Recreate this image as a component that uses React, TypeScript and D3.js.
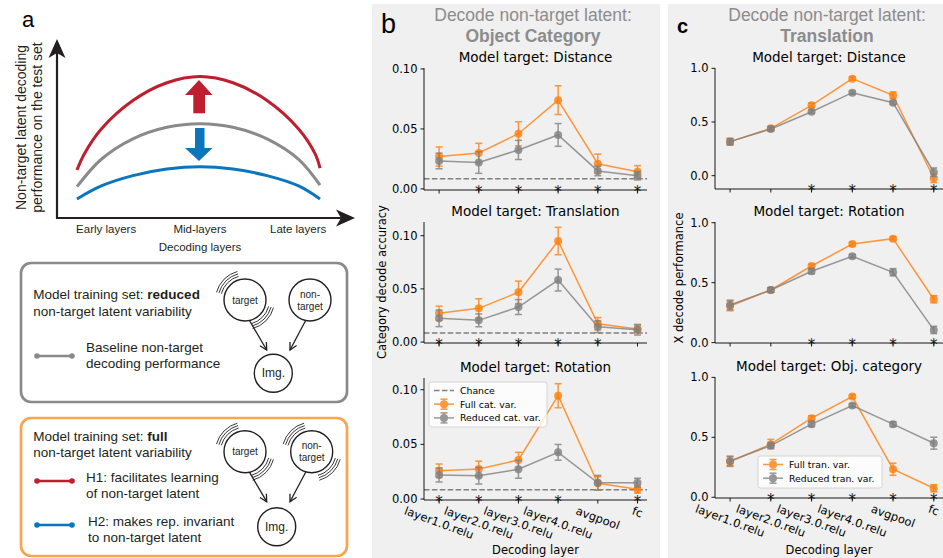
import React from "react";
import * as d3 from "d3";

// ---------------- data ----------------
const layers = ["layer1.0.relu", "layer2.0.relu", "layer3.0.relu", "layer4.0.relu", "avgpool", "fc"];

// Panel b: decode non-target latent = object category
const catDistFull = [0.027, 0.030, 0.046, 0.074, 0.021, 0.0144];
const catDistFullErr = [0.008, 0.008, 0.010, 0.012, 0.008, 0.005];
const catDistRed = [0.0233, 0.022, 0.0325, 0.045, 0.015, 0.011];
const catDistRedErr = [0.0065, 0.009, 0.008, 0.0095, 0.004, 0.0035];
const catDistStars = [false, true, true, true, true, true];

const catTranFull = [0.027, 0.0317, 0.0468, 0.095, 0.0172, 0.0122];
const catTranFullErr = [0.0067, 0.009, 0.0105, 0.0129, 0.0058, 0.0035];
const catTranRed = [0.0223, 0.0204, 0.0329, 0.0583, 0.0144, 0.0116];
const catTranRedErr = [0.0078, 0.006, 0.007, 0.0103, 0.0055, 0.005];
const catTranStars = [true, true, true, true, true, false];

const catRotFull = [0.0259, 0.0274, 0.0357, 0.0945, 0.0144, 0.0089];
const catRotFullErr = [0.0061, 0.0072, 0.007, 0.011, 0.006, 0.0035];
const catRotRed = [0.022, 0.0213, 0.0272, 0.0427, 0.0149, 0.0149];
const catRotRedErr = [0.0064, 0.0076, 0.0082, 0.0072, 0.0067, 0.0041];
const catRotStars = [true, true, true, true, false, true];

const chanceLevel = 0.0085;
const catTicks = [0, 0.05, 0.1];

// Panel c: decode non-target latent = translation
const tranDistFull = [0.317, 0.441, 0.655, 0.904, 0.749, -0.024];
const tranDistFullErr = [0.03, 0.02, 0.02, 0.015, 0.03, 0.04];
const tranDistRed = [0.317, 0.435, 0.596, 0.773, 0.68, 0.032];
const tranDistRedErr = [0.03, 0.02, 0.015, 0.015, 0.015, 0.04];
const tranDistStars = [false, false, true, true, true, true];

const tranRotFull = [0.306, 0.439, 0.639, 0.822, 0.867, 0.362];
const tranRotFullErr = [0.04, 0.02, 0.015, 0.015, 0.015, 0.03];
const tranRotRed = [0.314, 0.439, 0.595, 0.72, 0.587, 0.106];
const tranRotRedErr = [0.04, 0.02, 0.02, 0.015, 0.03, 0.03];
const tranRotStars = [false, false, true, true, true, true];

const tranCatFull = [0.297, 0.443, 0.66, 0.84, 0.234, 0.075];
const tranCatFullErr = [0.04, 0.04, 0.02, 0.015, 0.05, 0.03];
const tranCatRed = [0.303, 0.431, 0.61, 0.765, 0.61, 0.451];
const tranCatRedErr = [0.04, 0.02, 0.02, 0.015, 0.02, 0.05];
const tranCatStars = [false, true, true, true, true, true];

const tranTicks = [0, 0.5, 1.0];

// Panel a: schematic curves (layer position 0..1, performance 0..1)
const schemX = [0, 0.03, 0.1, 0.23, 0.37, 0.506, 0.642, 0.782, 0.912, 0.98, 1.0];
const schemH1 = [0.27, 0.36, 0.5, 0.66, 0.76, 0.795, 0.76, 0.66, 0.5, 0.36, 0.28];
const schemBaseX = [0, 0.1, 0.23, 0.37, 0.506, 0.642, 0.782, 0.912, 1.0];
const schemBase = [0.176, 0.33, 0.445, 0.51, 0.53, 0.51, 0.445, 0.33, 0.185];
const schemH2 = [0.107, 0.18, 0.238, 0.275, 0.288, 0.275, 0.238, 0.18, 0.107];
const schemTickLabels = ["Early layers", "Mid-layers", "Late layers"];
const schemTickPos = [0.12, 0.506, 0.91];

// ---------------- styles ----------------
const FA = "'Liberation Sans', Arial, Helvetica, sans-serif";
const FM = "'DejaVu Sans', sans-serif";
const ORANGE = "#ff7f0e";
const GRAY = "#7f7f7f";
const RED = "#be1e2d";
const BLUE = "#0b75bd";
const SGRAY = "#8a8a8a";

let measureCtx: CanvasRenderingContext2D | null = null;
function textWidth(s: string, font: string) {
  if (!measureCtx) measureCtx = document.createElement("canvas").getContext("2d");
  if (!measureCtx) return s.length * 6;
  measureCtx.font = font;
  return measureCtx.measureText(s).width;
}

function Series({ xs, ys, vals, errs, color }: any) {
  const line = d3.line<number>().x((_, i) => xs(i)).y((d) => ys(d));
  const op = 0.8;
  return (
    <g>
      <path d={line(vals) || ""} fill="none" stroke={color} strokeWidth={1.5} opacity={op} />
      {vals.map((v: number, i: number) => {
        const x = xs(i);
        const y0 = ys(v - errs[i]);
        const y1 = ys(v + errs[i]);
        return (
          <g key={i} opacity={op}>
            <line x1={x} x2={x} y1={y0} y2={y1} stroke={color} strokeWidth={1.5} />
            <line x1={x - 3.5} x2={x + 3.5} y1={y0} y2={y0} stroke={color} strokeWidth={1.5} />
            <line x1={x - 3.5} x2={x + 3.5} y1={y1} y2={y1} stroke={color} strokeWidth={1.5} />
          </g>
        );
      })}
      {vals.map((v: number, i: number) => (
        <circle key={"m" + i} cx={xs(i)} cy={ys(v)} r={4} fill={color} opacity={op} />
      ))}
    </g>
  );
}

function LegendHandle({ x, y, color }: any) {
  return (
    <g opacity={0.8}>
      <line x1={x} x2={x + 20} y1={y} y2={y} stroke={color} strokeWidth={1.5} />
      <line x1={x + 10} x2={x + 10} y1={y - 5} y2={y + 5} stroke={color} strokeWidth={1.5} />
      <line x1={x + 6.5} x2={x + 13.5} y1={y - 5} y2={y - 5} stroke={color} strokeWidth={1.5} />
      <line x1={x + 6.5} x2={x + 13.5} y1={y + 5} y2={y + 5} stroke={color} strokeWidth={1.5} />
      <circle cx={x + 10} cy={y} r={4} fill={color} />
    </g>
  );
}

function Subplot(p: any) {
  const xs = d3.scaleLinear().domain(p.xlim).range([p.left, p.right]);
  const ys = d3.scaleLinear().domain(p.ylim).range([p.bottom, p.top]);
  const fmt = d3.format(p.fmt);
  const cx = (p.left + Math.min(p.right, 943)) / 2;
  const tickFont = `11.5px ${FM}`;
  return (
    <g>
      <text x={p.titleX ?? cx} y={p.top - 6.3} textAnchor="middle" fontFamily={FM} fontSize={13.5} fill="#000">
        {p.title}
      </text>
      {p.chance !== undefined && (
        <line
          x1={p.left}
          x2={p.right}
          y1={ys(p.chance)}
          y2={ys(p.chance)}
          stroke={GRAY}
          strokeWidth={1.5}
          strokeDasharray="5.5,2.4"
        />
      )}
      <Series xs={xs} ys={ys} vals={p.full} errs={p.fullErr} color={ORANGE} />
      <Series xs={xs} ys={ys} vals={p.red} errs={p.redErr} color={GRAY} />
      {/* spines */}
      <line x1={p.left} x2={p.left} y1={p.top} y2={p.bottom} stroke="#000" strokeWidth={0.9} />
      <line x1={p.left} x2={p.right} y1={p.bottom} y2={p.bottom} stroke="#000" strokeWidth={0.9} />
      {/* y ticks */}
      {p.ticks.map((t: number) => (
        <g key={"y" + t}>
          <line x1={p.left - 3.5} x2={p.left} y1={ys(t)} y2={ys(t)} stroke="#000" strokeWidth={0.9} />
          <text
            x={p.left - 6.5}
            y={ys(t)}
            textAnchor="end"
            dominantBaseline="central"
            fontFamily={FM}
            fontSize={11.5}
            fill="#000"
          >
            {fmt(t)}
          </text>
        </g>
      ))}
      {/* x ticks */}
      {layers.map((l, i) => (
        <line key={"x" + i} x1={xs(i)} x2={xs(i)} y1={p.bottom} y2={p.bottom + 3.5} stroke="#000" strokeWidth={0.9} />
      ))}
      {/* significance stars */}
      {p.stars.map((s: boolean, i: number) =>
        s ? (
          <text key={"s" + i} x={xs(i)} y={p.bottom + 6.5} textAnchor="middle" fontFamily={FM} fontSize={15} fill="#111">
            *
          </text>
        ) : null
      )}
      {p.showX &&
        layers.map((l, i) => {
          const w = textWidth(l, tickFont);
          const h = 13.3;
          const a = (20 * Math.PI) / 180;
          const H = w * Math.sin(a) + h * Math.cos(a);
          const cy = p.bottom + 4 + H / 2;
          return (
            <text
              key={"xl" + i}
              transform={`translate(${xs(i)},${cy}) rotate(20)`}
              textAnchor="middle"
              dominantBaseline="central"
              fontFamily={FM}
              fontSize={11.5}
              fill="#000"
            >
              {l}
            </text>
          );
        })}
      {p.showX && (
        <text x={cx} y={554} textAnchor="middle" fontFamily={FM} fontSize={11.5} fill="#000">
          Decoding layer
        </text>
      )}
      {p.legend && (
        <g>
          <rect
            x={p.legend.x}
            y={p.legend.y}
            width={p.legend.w}
            height={p.legend.h}
            rx={2.5}
            fill="#fff"
            fillOpacity={0.8}
            stroke="#cccccc"
            strokeWidth={0.8}
          />
          {p.legend.items.map((it: any, k: number) => {
            const yy = p.legend.y + 8.5 + k * 13.7;
            const hx = p.legend.x + 5;
            return (
              <g key={k}>
                {it.kind === "dash" ? (
                  <line x1={hx} x2={hx + 20} y1={yy} y2={yy} stroke={GRAY} strokeWidth={1.5} strokeDasharray="5.5,2.4" />
                ) : (
                  <LegendHandle x={hx} y={yy} color={it.color} />
                )}
                <text x={hx + 26} y={yy} dominantBaseline="central" fontFamily={FM} fontSize={9.3} fill="#000">
                  {it.label}
                </text>
              </g>
            );
          })}
        </g>
      )}
    </g>
  );
}

function Arcs({ cx, cy, r, start, end }: any) {
  return (
    <g>
      {[3.5, 6, 8.5].map((dr) => {
        const p = d3.path();
        const a0 = (start * Math.PI) / 180;
        const a1 = (end * Math.PI) / 180;
        p.moveTo(cx + (r + dr) * Math.cos(a0), cy + (r + dr) * Math.sin(a0));
        p.arc(cx, cy, r + dr, a0, a1);
        return <path key={dr} d={p.toString()} fill="none" stroke="#231f20" strokeWidth={0.9} />;
      })}
    </g>
  );
}

function Node({ cx, cy, r, lines, fs, vib }: any) {
  return (
    <g>
      <circle cx={cx} cy={cy} r={r} fill="#fff" stroke="#231f20" strokeWidth={1.4} />
      {vib && (
        <>
          <Arcs cx={cx} cy={cy} r={r} start={195} end={255} />
          <Arcs cx={cx} cy={cy} r={r} start={15} end={75} />
        </>
      )}
      {lines.map((t: string, i: number) => (
        <text
          key={i}
          x={cx}
          y={cy + (i - (lines.length - 1) / 2) * 12}
          textAnchor="middle"
          dominantBaseline="central"
          fontFamily={FA}
          fontSize={fs}
          fill="#231f20"
        >
          {t}
        </text>
      ))}
    </g>
  );
}

function ArrowLine({ x1, y1, x2, y2 }: any) {
  const ang = Math.atan2(y2 - y1, x2 - x1);
  const L = 8;
  const da = (28 * Math.PI) / 180;
  const p1 = [x2 - L * Math.cos(ang - da), y2 - L * Math.sin(ang - da)];
  const p2 = [x2 - L * Math.cos(ang + da), y2 - L * Math.sin(ang + da)];
  return (
    <g stroke="#231f20" strokeWidth={1.3} fill="none">
      <line x1={x1} y1={y1} x2={x2} y2={y2} />
      <polyline points={`${p1[0]},${p1[1]} ${x2},${y2} ${p2[0]},${p2[1]}`} />
    </g>
  );
}

function Diagram({ y0, vibNon }: any) {
  const tY = y0;
  return (
    <g>
      <ArrowLine x1={248.3} y1={tY + 18.5} x2={266.7} y2={tY + 50} />
      <ArrowLine x1={306.7} y1={tY + 18.5} x2={290} y2={tY + 50} />
      <Node cx={245} cy={tY} r={21} lines={["target"]} fs={10} vib />
      <Node cx={vibNon ? 311.7 : 310} cy={tY} r={21} lines={["non-", "target"]} fs={10} vib={vibNon} />
      <Node cx={vibNon ? 276.7 : 273.3} cy={tY + (vibNon ? 75 : 73.3)} r={19} lines={["Img."]} fs={12} />
    </g>
  );
}

function LegendDots({ y, color }: any) {
  return (
    <g>
      <line x1={37} x2={72} y1={y} y2={y} stroke={color} strokeWidth={2.5} />
      <circle cx={37} cy={y} r={2.8} fill={color} />
      <circle cx={72} cy={y} r={2.8} fill={color} />
    </g>
  );
}

function PanelA() {
  const xs = d3.scaleLinear().domain([0, 1]).range([77, 320]);
  const ys = d3.scaleLinear().domain([0, 1]).range([218, 40]);
  const mk = (xv: number[], yv: number[]) =>
    d3
      .line<number>()
      .x((_, i) => xs(xv[i]))
      .y((d) => ys(d))
      .curve(d3.curveCatmullRom.alpha(0.5))(yv) || "";
  const T = { fontFamily: FA, fill: "#231f20" } as any;
  return (
    <g>
      <text x={22} y={26.7} fontFamily={FA} fontSize={22} fill="#000">
        a
      </text>
      {/* axes */}
      <line x1={57} x2={57} y1={219} y2={52} stroke="#231f20" strokeWidth={2.2} />
      <line x1={56} x2={343} y1={218} y2={218} stroke="#231f20" strokeWidth={2.2} />
      <polygon points="57,39 65.5,58 57,53 48.5,58" fill="#231f20" />
      <polygon points="355,218 336,209.5 341,218 336,226.5" fill="#231f20" />
      <path d={mk(schemX, schemH1)} fill="none" stroke={RED} strokeWidth={3} />
      <path d={mk(schemBaseX, schemBase)} fill="none" stroke={SGRAY} strokeWidth={3} />
      <path d={mk(schemBaseX, schemH2)} fill="none" stroke={BLUE} strokeWidth={3} />
      {/* up/down arrows */}
      <rect x={193.3} y={94.5} width={11.7} height={18.8} fill={RED} />
      <polygon points="185,95 212.5,95 199,80" fill={RED} />
      <rect x={195} y={128} width={9.5} height={20.5} fill={BLUE} />
      <polygon points="185,148 212.5,148 199,161" fill={BLUE} />
      {schemTickLabels.map((t, i) => (
        <text key={t} x={xs(schemTickPos[i])} y={233} textAnchor="middle" fontSize={11.5} {...T}>
          {t}
        </text>
      ))}
      <text x={200} y={251} textAnchor="middle" fontSize={11.5} {...T}>
        Decoding layers
      </text>
      <text transform="translate(25.5,127.5) rotate(-90)" textAnchor="middle" fontSize={14} {...T}>
        Non-target latent decoding
      </text>
      <text transform="translate(42,127.5) rotate(-90)" textAnchor="middle" fontSize={14} {...T}>
        performance on the test set
      </text>

      {/* box 1 */}
      <rect x={21} y={263} width={326} height={139} rx={10} fill="none" stroke={SGRAY} strokeWidth={2.7} />
      <text x={33.3} y={299} fontSize={13.5} {...T}>
        Model training set: <tspan fontWeight="bold">reduced</tspan>
      </text>
      <text x={33.3} y={315.5} fontSize={13.5} {...T}>
        non-target latent variability
      </text>
      <LegendDots y={356} color={SGRAY} />
      <text x={86} y={351.7} fontSize={13.5} {...T}>
        Baseline non-target
      </text>
      <text x={86} y={368} fontSize={13.5} {...T}>
        decoding performance
      </text>
      <Diagram y0={300} vibNon={false} />

      {/* box 2 */}
      <rect x={21} y={418} width={326} height={138} rx={10} fill="none" stroke="#f7a54f" strokeWidth={2.7} />
      <text x={33.3} y={440.7} fontSize={13.5} {...T}>
        Model training set: <tspan fontWeight="bold">full</tspan>
      </text>
      <text x={33.3} y={456.7} fontSize={13.5} {...T}>
        non-target latent variability
      </text>
      <LegendDots y={481} color={RED} />
      <text x={86} y={482.3} fontSize={13.5} {...T}>
        H1: facilitates learning
      </text>
      <text x={86} y={497.7} fontSize={13.5} {...T}>
        of non-target latent
      </text>
      <LegendDots y={525} color={BLUE} />
      <text x={88} y={526} fontSize={13.5} {...T}>
        H2: makes rep. invariant
      </text>
      <text x={88} y={541.7} fontSize={13.5} {...T}>
        to non-target latent
      </text>
      <Diagram y0={451.7} vibNon={true} />
    </g>
  );
}

export default function App() {
  const bX = { left: 424, right: 647, xlim: [-0.38, 5.24] };
  const cX = { left: 715, right: 946, xlim: [-0.37, 5.3] };
  return (
    <svg
      width={943}
      height={558}
      viewBox="0 0 943 558"
      style={{ position: "absolute", left: 0, top: 0, background: "#fff" }}
    >
      <rect x={0} y={0} width={943} height={558} fill="#fff" />
      <rect x={372} y={4} width={288} height={554} fill="#f0f0f0" />
      <rect x={668} y={4} width={275} height={554} fill="#f0f0f0" />

      <PanelA />

      {/* Panel b */}
      <text x={381} y={33.3} fontFamily={FA} fontSize={27} fill="#000">
        b
      </text>
      <text x={533} y={20.7} textAnchor="middle" fontFamily={FA} fontSize={17.5} fill="#8c8c8c">
        Decode non-target latent:
      </text>
      <text x={533} y={41.7} textAnchor="middle" fontFamily={FA} fontSize={17.5} fontWeight="bold" fill="#8c8c8c">
        Object Category
      </text>
      <text
        transform="translate(382,282) rotate(-90)"
        textAnchor="middle"
        dominantBaseline="central"
        fontFamily={FM}
        fontSize={11.5}
        fill="#000"
      >
        Category decode accuracy
      </text>
      <Subplot
        {...bX}
        top={68}
        bottom={190}
        ylim={[-0.0009, 0.1008]}
        ticks={catTicks}
        fmt=".2f"
        title="Model target: Distance"
        full={catDistFull}
        fullErr={catDistFullErr}
        red={catDistRed}
        redErr={catDistRedErr}
        stars={catDistStars}
        chance={chanceLevel}
      />
      <Subplot
        {...bX}
        top={222}
        bottom={343}
        ylim={[-0.0009, 0.1129]}
        ticks={catTicks}
        fmt=".2f"
        title="Model target: Translation"
        full={catTranFull}
        fullErr={catTranFullErr}
        red={catTranRed}
        redErr={catTranRedErr}
        stars={catTranStars}
        chance={chanceLevel}
      />
      <Subplot
        {...bX}
        top={378}
        bottom={500}
        ylim={[-0.0009, 0.1107]}
        ticks={catTicks}
        fmt=".2f"
        title="Model target: Rotation"
        full={catRotFull}
        fullErr={catRotFullErr}
        red={catRotRed}
        redErr={catRotRedErr}
        stars={catRotStars}
        chance={chanceLevel}
        showX
        legend={{
          x: 429,
          y: 382,
          w: 118,
          h: 45,
          items: [
            { kind: "dash", label: "Chance" },
            { kind: "eb", color: ORANGE, label: "Full cat. var." },
            { kind: "eb", color: GRAY, label: "Reduced cat. var." },
          ],
        }}
      />

      {/* Panel c */}
      <text x={677} y={32.7} fontFamily={FA} fontSize={20} fontWeight="bold" fill="#000">
        c
      </text>
      <text x={827} y={20.7} textAnchor="middle" fontFamily={FA} fontSize={17.5} fill="#8c8c8c">
        Decode non-target latent:
      </text>
      <text x={827} y={41.7} textAnchor="middle" fontFamily={FA} fontSize={17.5} fontWeight="bold" fill="#8c8c8c">
        Translation
      </text>
      <text
        transform="translate(679,278) rotate(-90)"
        textAnchor="middle"
        dominantBaseline="central"
        fontFamily={FM}
        fontSize={11.5}
        fill="#000"
      >
        X decode performance
      </text>
      <Subplot
        {...cX}
        titleX={829}
        top={68}
        bottom={189}
        ylim={[-0.124, 1.003]}
        ticks={tranTicks}
        fmt=".1f"
        title="Model target: Distance"
        full={tranDistFull}
        fullErr={tranDistFullErr}
        red={tranDistRed}
        redErr={tranDistRedErr}
        stars={tranDistStars}
      />
      <Subplot
        {...cX}
        titleX={829}
        top={222}
        bottom={343}
        ylim={[-0.003, 1.006]}
        ticks={tranTicks}
        fmt=".1f"
        title="Model target: Rotation"
        full={tranRotFull}
        fullErr={tranRotFullErr}
        red={tranRotRed}
        redErr={tranRotRedErr}
        stars={tranRotStars}
      />
      <Subplot
        {...cX}
        titleX={829}
        top={377}
        bottom={498}
        ylim={[-0.006, 1.003]}
        ticks={tranTicks}
        fmt=".1f"
        title="Model target: Obj. category"
        full={tranCatFull}
        fullErr={tranCatFullErr}
        red={tranCatRed}
        redErr={tranCatRedErr}
        stars={tranCatStars}
        showX
        legend={{
          x: 758,
          y: 456,
          w: 124,
          h: 32,
          items: [
            { kind: "eb", color: ORANGE, label: "Full tran. var." },
            { kind: "eb", color: GRAY, label: "Reduced tran. var." },
          ],
        }}
      />
    </svg>
  );
}
